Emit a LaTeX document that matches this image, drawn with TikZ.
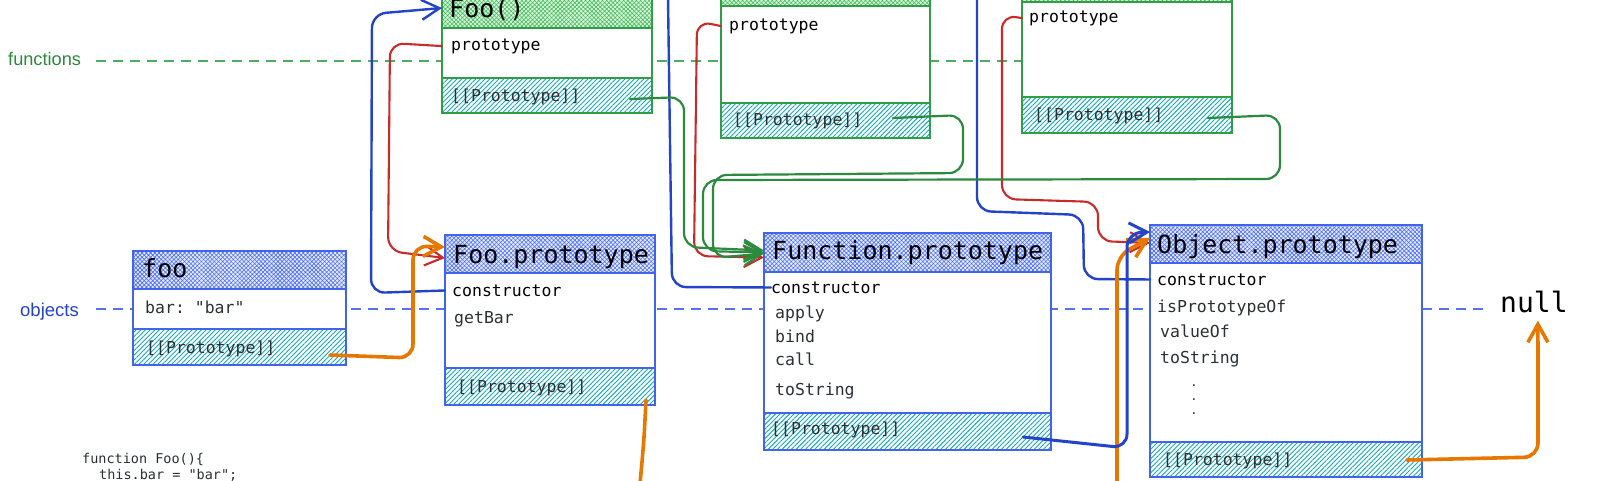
\documentclass[tikz,border=0pt]{standalone}
\usepackage{fontspec}
\setmonofont{DejaVu Sans Mono}
\setsansfont{Liberation Sans}
\usetikzlibrary{arrows.meta,patterns.meta}
\definecolor{objblue}{HTML}{4263EB}
\definecolor{hatchblue}{HTML}{4C6EF5}
\definecolor{fungreen}{HTML}{2F9E44}
\definecolor{hatchgreen}{HTML}{40C057}
\definecolor{cyanhatch}{HTML}{15AABF}
\definecolor{arrblue}{HTML}{2343C9}
\definecolor{arrred}{HTML}{C92A2A}
\definecolor{arrgreen}{HTML}{2B8A3E}
\definecolor{arrorange}{HTML}{E67700}
\definecolor{txtgrey}{HTML}{2B3035}
\begin{document}
\begin{tikzpicture}[x=1pt,y=-1pt,
  sz/.style 2 args={minimum width=#1pt,minimum height=#2pt},
  sec/.style={anchor=north west,inner sep=0pt,outer sep=0pt},
  ohdr/.style={sec,draw=objblue,line width=1.4pt,preaction={fill=hatchblue!14},
    preaction={pattern={Hatch[angle=45,distance=3pt,line width=0.6pt]},pattern color=hatchblue}},
  obody/.style={sec,draw=objblue,line width=1.2pt,fill=white},
  oproto/.style={sec,draw=objblue,line width=1.6pt,preaction={fill=white},
    preaction={pattern={Lines[angle=45,distance=3.3pt,line width=0.9pt]},pattern color=cyanhatch}},
  fhdr/.style={sec,draw=fungreen,line width=1.4pt,preaction={fill=hatchgreen!18},
    preaction={pattern={Hatch[angle=45,distance=3pt,line width=0.6pt]},pattern color=hatchgreen}},
  fbody/.style={sec,draw=fungreen,line width=1.2pt,fill=white},
  fproto/.style={sec,draw=fungreen,line width=1.6pt,preaction={fill=white},
    preaction={pattern={Lines[angle=45,distance=3.3pt,line width=0.9pt]},pattern color=cyanhatch}},
  htxt/.style={anchor=base west,inner sep=0pt,font=\fontsize{25}{28}\selectfont\ttfamily},
  ktxt/.style={anchor=mid west,inner sep=0pt,yshift=-3pt,font=\fontsize{16.5}{19}\selectfont\ttfamily,text=black},
  ptxt/.style={anchor=mid west,inner sep=0pt,yshift=-3pt,font=\fontsize{16.5}{19}\selectfont\ttfamily,text=txtgrey},
  gdash/.style={draw=fungreen!85,line width=1.4pt,dash pattern=on 10pt off 7pt},
  bdash/.style={draw=objblue!90,line width=1.4pt,dash pattern=on 10pt off 7pt},
  conn/.style={line width=2.4pt,rounded corners=14pt,line cap=round,line join=round},
  tip/.style={-{Straight Barb[length=18pt,width=20pt]}},
  cblue/.style={conn,draw=arrblue},
  cred/.style={conn,draw=arrred,line width=2.1pt},
  cgreen/.style={conn,draw=arrgreen,line width=2.2pt},
  corange/.style={conn,draw=arrorange,line width=3.6pt},
]
\useasboundingbox (0,0) rectangle (1600,480);
\clip (0,0) rectangle (1600,480);
\fill[white] (0,0) rectangle (1600,480);

% layer guides
\node[anchor=mid west,inner sep=0pt,yshift=-5pt,text=arrgreen,font=\fontsize{18.2}{20}\selectfont\sffamily] (lblF) at (8,58) {functions};
\node[anchor=mid west,inner sep=0pt,yshift=-5pt,text=arrblue,font=\fontsize{18.5}{20}\selectfont\sffamily] (lblO) at (20,309) {objects};
\draw[gdash] (96,61) -- (1021,61);
\draw[bdash] (96,309) -- (1483,309);

% ---- function boxes
\node[fbody,sz={210}{50}] (f1B) at (442,28) {};
\node[fhdr,sz={210}{40}] (f1H) at (442,-12) {};
\node[fproto,sz={210}{35}] (f1P) at (442,78) {};
\node[htxt] (f1T) at (449,17) {Foo()};
\node[ktxt] (f1pr) at (451,45) {prototype};
\node[ptxt] (f1pp) at (451,96) {[[Prototype]]};

\node[fbody,sz={209}{97}] (f2B) at (721,6) {};
\node[fhdr,sz={209}{40}] (f2H) at (721,-34) {};
\node[fproto,sz={209}{35}] (f2P) at (721,103) {};
\node[ktxt] (f2pr) at (729,25) {prototype};
\node[ptxt] (f2pp) at (733,120) {[[Prototype]]};

\node[fbody,sz={210}{95}] (f3B) at (1022,2) {};
\node[fhdr,sz={210}{40}] (f3H) at (1022,-38) {};
\node[fproto,sz={210}{36}] (f3P) at (1022,97) {};
\node[ktxt] (f3pr) at (1029,17) {prototype};
\node[ptxt] (f3pp) at (1034,115) {[[Prototype]]};

% ---- object boxes
\node[obody,sz={213}{40}] (ofooB) at (133,289) {};
\node[ohdr,sz={213}{38}] (ofooH) at (133,251) {};
\node[oproto,sz={213}{36}] (ofooP) at (133,329) {};
\node[htxt] (ofooT) at (142,277) {foo};
\node[ptxt] (ofooBar) at (145,308) {bar: "bar"};
\node[ptxt] (ofooPP) at (146,348) {[[Prototype]]};

\node[obody,sz={210}{95}] (fpB) at (445,273) {};
\node[ohdr,sz={210}{38}] (fpH) at (445,235) {};
\node[oproto,sz={210}{37}] (fpP) at (445,368) {};
\node[htxt] (fpT) at (453,263) {Foo.prototype};
\node[ktxt] (fpC) at (452,291) {constructor};
\node[ptxt] (fpG) at (454,318) {getBar};
\node[ptxt] (fpPP) at (457,387) {[[Prototype]]};

\node[obody,sz={287}{141}] (fnB) at (764,272) {};
\node[ohdr,sz={287}{39}] (fnH) at (764,233) {};
\node[oproto,sz={287}{37}] (fnP) at (764,413) {};
\node[htxt] (fnT) at (772,259) {Function.prototype};
\node[ktxt] (fnC) at (771,288) {constructor};
\node[ptxt] (fnApply) at (775,313) {apply};
\node[ptxt] (fnBind) at (775,337) {bind};
\node[ptxt] (fnCall) at (775,360) {call};
\node[ptxt] (fnToS) at (775,390) {toString};
\node[ptxt] (fnPP) at (771,429) {[[Prototype]]};

\node[obody,sz={272}{179}] (opB) at (1150,263) {};
\node[ohdr,sz={272}{38}] (opH) at (1150,225) {};
\node[oproto,sz={272}{35}] (opP) at (1150,442) {};
\node[htxt] (opT) at (1157,253) {Object.prototype};
\node[ktxt] (opC) at (1157,280) {constructor};
\node[ptxt] (opIs) at (1157,307) {isPrototypeOf};
\node[ptxt] (opVal) at (1160,332) {valueOf};
\node[ptxt] (opToS) at (1160,358) {toString};
\node[anchor=north,inner sep=0pt,text=txtgrey,align=center,font=\fontsize{12}{14}\selectfont\ttfamily] (opDots) at (1194,385) {.\\.\\.};
\node[ptxt] (opPP) at (1163,460) {[[Prototype]]};

\node[anchor=base west,inner sep=0pt,font=\fontsize{28}{30}\selectfont\ttfamily] (nullN) at (1500,312) {null};

% code
\node[anchor=mid west,inner sep=0pt,text=txtgrey,font=\fontsize{13.5}{15}\selectfont\ttfamily] (code1) at (82,461) {function Foo()\{};
\node[anchor=mid west,inner sep=0pt,text=txtgrey,font=\fontsize{13.5}{15}\selectfont\ttfamily] (code2) at (99,477) {this.bar = "bar";};

% free ends
\coordinate (topF2) at (668,-3);
\coordinate (topF3) at (977,-3);
\coordinate (botA) at (640,484);
\coordinate (botB) at (1117,484);

% ---- connectors
% constructor links (blue)
\draw[cblue,tip] (fpB.west |- fpC.west) -- (371,293) -- (372,14) -- (f1H.west);
\draw[cblue] (topF2) -- (672,287) -- (fnC.west);
\draw[cblue] (topF3) -- (977,211) -- (1083,215) -- (1084,279) -- (opB.west |- opC.west);
% prototype links (red)
\draw[cred,tip] (f1B.west |- f1pr.west) -- (390,43) -- (388,251) -- ([yshift=-4pt]fpH.west);
\draw[cred,tip] (f2B.west |- f2pr.west) -- (697,21) -- (694,256) -- ([yshift=-5pt]fnH.west);
\draw[cred,tip] (f3B.west |- f3pr.west) -- (1002,15) -- (1002,199) -- (1098,202) -- (1098,241) -- ([yshift=1pt]opH.west);
% [[Prototype]] of functions (green)
\draw[cgreen,tip] ([xshift=-22pt,yshift=-3.5pt]f1P.east) -- (684,97) -- (684,247) -- ([yshift=2pt]fnH.west);
\draw[cgreen,tip] ([xshift=-37pt,yshift=2.5pt]f2P.east) -- (963,115) -- (963,173) -- (713,175) -- (713,258) -- ([yshift=-1pt]fnH.west);
\draw[cgreen,tip] ([xshift=-24pt,yshift=-3pt]f3P.east) -- (1280,115) -- (1280,179) -- (703,180) -- (703,251) -- (fnH.west);
% [[Prototype]] of objects
\draw[corange,tip] ([xshift=-16pt,yshift=-8pt]ofooP.east) -- (413,358) -- (413,246) -- ([yshift=7pt]fpH.west);
\draw[corange] ([xshift=-9pt,yshift=-13.5pt]fpP.east) .. controls (644,440) .. (botA);
\draw[corange,tip] (botB) -- (1117,256) -- ([yshift=6pt]opH.west);
\draw[cblue,line width=3pt,tip] ([xshift=-28pt,yshift=-5.5pt]fnP.east) -- (1127,448) -- (1127,233) -- ([yshift=12pt]opH.west);
\draw[corange,tip] ([xshift=-15pt,yshift=-0.5pt]opP.east) -- (1538,457) -- ([xshift=4pt,yshift=-8pt]nullN.south);
\end{tikzpicture}
\end{document}
